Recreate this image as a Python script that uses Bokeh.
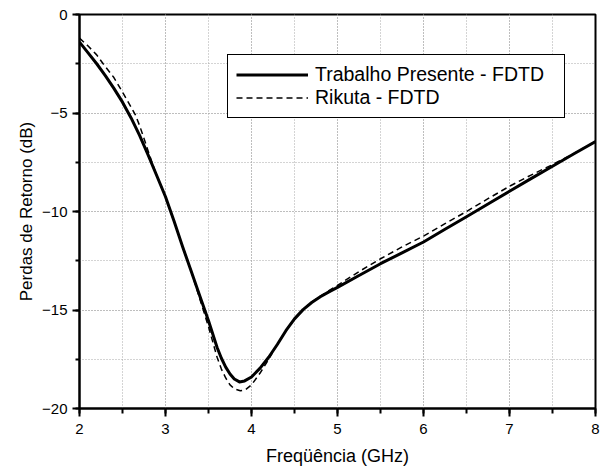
from bokeh.plotting import figure
from bokeh.models import SingleIntervalTicker, Range1d, Legend, LegendItem
from bokeh.embed import file_html
from bokeh.resources import INLINE

# Trabalho Presente - FDTD
solid_x = [2.0, 2.1, 2.2, 2.3, 2.4, 2.5, 2.6, 2.7, 2.8, 2.9, 3.0, 3.1, 3.2, 3.3, 3.4, 3.5,
           3.6, 3.65, 3.7, 3.75, 3.8, 3.86, 3.92, 4.0, 4.1, 4.2, 4.3, 4.4, 4.5, 4.6, 4.7,
           4.8, 4.9, 5.0, 5.25, 5.5, 5.75, 6.0, 6.25, 6.5, 6.75, 7.0, 7.25, 7.5, 7.75, 8.0]
solid_y = [-1.4, -1.95, -2.5, -3.1, -3.75, -4.45, -5.25, -6.15, -7.15, -8.2, -9.25, -10.5,
           -11.8, -13.05, -14.3, -15.55, -16.9, -17.45, -17.9, -18.25, -18.5, -18.65, -18.6,
           -18.4, -17.95, -17.4, -16.75, -16.05, -15.45, -14.98, -14.62, -14.33, -14.08,
           -13.85, -13.25, -12.65, -12.1, -11.55, -10.9, -10.27, -9.62, -8.97, -8.33, -7.7,
           -7.07, -6.45]

# Rikuta - FDTD
dash_x = [2.0, 2.1, 2.2, 2.275, 2.4, 2.5, 2.6, 2.65, 2.7, 2.75, 2.8, 2.85, 2.9, 3.0, 3.1,
          3.2, 3.3, 3.4, 3.5, 3.6, 3.65, 3.7, 3.75, 3.8, 3.87, 3.93, 4.0, 4.1, 4.2, 4.3,
          4.4, 4.5, 4.6, 4.7, 4.8, 4.9, 5.0, 5.25, 5.5, 5.75, 6.0, 6.25, 6.5, 6.75, 7.0,
          7.25, 7.5, 7.75, 8.0]
dash_y = [-1.2, -1.6, -2.05, -2.5, -3.2, -3.94, -4.7, -5.1, -5.65, -6.3, -6.95, -7.6, -8.2,
          -9.25, -10.5, -11.8, -13.05, -14.45, -15.85, -17.4, -18.0, -18.45, -18.8, -19.0,
          -19.1, -19.05, -18.8, -18.2, -17.5, -16.75, -16.05, -15.45, -14.98, -14.6, -14.3,
          -14.02, -13.75, -13.05, -12.4, -11.8, -11.25, -10.62, -10.0, -9.35, -8.72, -8.15,
          -7.62, -7.05, -6.45]

series_labels = ["Trabalho Presente - FDTD", "Rikuta - FDTD"]
x_label = "Freqüência (GHz)"
y_label = "Perdas de Retorno (dB)"

FONT = "Liberation Sans"

p = figure(width=600, height=469, output_backend="svg", toolbar_location=None,
           x_range=Range1d(2, 8), y_range=Range1d(-20, 0),
           min_border_left=79, min_border_right=5, min_border_top=14, min_border_bottom=61)
p.background_fill_color = "white"
p.border_fill_color = "white"
p.outline_line_color = "black"
p.outline_line_width = 2

p.xaxis.ticker = SingleIntervalTicker(interval=1, num_minor_ticks=2)
p.yaxis.ticker = SingleIntervalTicker(interval=5, num_minor_ticks=2)

for ax in (p.xaxis[0], p.yaxis[0]):
    ax.axis_line_color = "black"
    ax.axis_line_width = 2
    ax.major_tick_line_color = "black"
    ax.major_tick_line_width = 2
    ax.minor_tick_line_color = "black"
    ax.minor_tick_line_width = 2
    ax.major_tick_in = 0
    ax.minor_tick_in = 0
    ax.major_label_text_font = FONT
    ax.major_label_text_font_size = "15px"
    ax.major_label_text_color = "black"
    ax.axis_label_text_font = FONT
    ax.axis_label_text_font_style = "normal"
    ax.axis_label_text_color = "black"

p.xaxis.axis_label_text_font_size = "18px"
p.yaxis.axis_label_text_font_size = "17px"
p.xaxis.major_tick_out = 8
p.xaxis.minor_tick_out = 5
p.yaxis.major_tick_out = 7
p.yaxis.minor_tick_out = 4
p.xaxis.major_label_standoff = 7
p.yaxis.major_label_standoff = 5
p.xaxis.axis_label = x_label
p.yaxis.axis_label = y_label
p.xaxis.axis_label_standoff = 9
p.yaxis.axis_label_standoff = 3

for g in (p.xgrid[0], p.ygrid[0]):
    g.grid_line_color = "#a8a8a8"
    g.grid_line_width = 1
    g.grid_line_dash = "1 2"
    g.minor_grid_line_color = "#a8a8a8"
    g.minor_grid_line_width = 1
    g.minor_grid_line_dash = "1 2"

r1 = p.line(solid_x, solid_y, line_color="black", line_width=3, line_join="round")
r2 = p.line(dash_x, dash_y, line_color="black", line_width=1.5, line_dash="6 4")

legend = Legend(items=[LegendItem(label=series_labels[0], renderers=[r1]),
                       LegendItem(label=series_labels[1], renderers=[r2])],
                location=(148, 290))
legend.border_line_color = "black"
legend.border_line_width = 1
legend.border_line_alpha = 1
legend.background_fill_color = "white"
legend.background_fill_alpha = 1
legend.label_text_font = FONT
legend.label_text_font_size = "19.5px"
legend.label_text_color = "black"
legend.padding = 8
legend.margin = 0
legend.spacing = 0
legend.glyph_width = 72
legend.glyph_height = 21
legend.label_height = 21
legend.label_standoff = 7
legend.label_width = 241
p.add_layout(legend, "center")

open("out.html", "w").write(file_html(p, INLINE))
